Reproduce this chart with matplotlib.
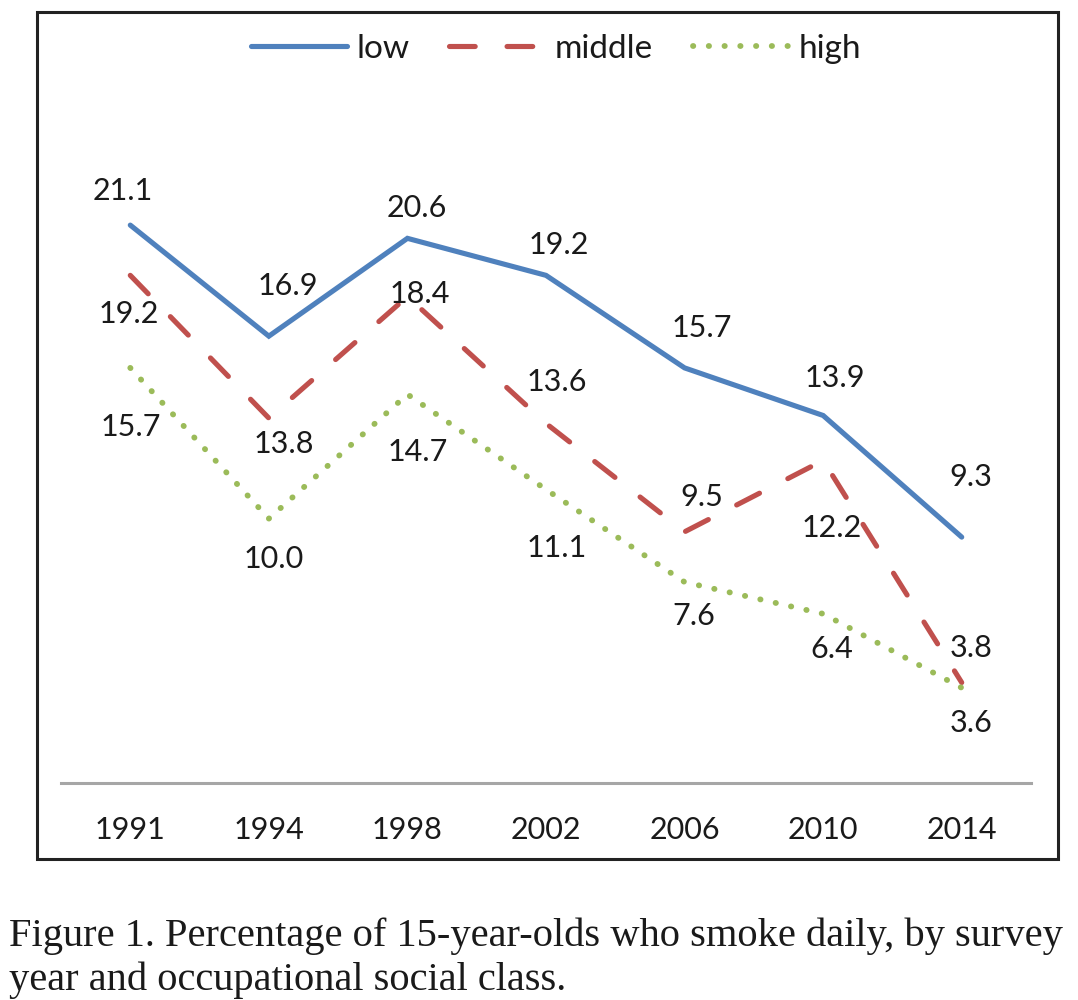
import matplotlib
matplotlib.use("Agg")
import matplotlib.pyplot as plt
from matplotlib.patches import Rectangle

years = ["1991", "1994", "1998", "2002", "2006", "2010", "2014"]
low = [21.1, 16.9, 20.6, 19.2, 15.7, 13.9, 9.3]
middle = [19.2, 13.8, 18.4, 13.6, 9.5, 12.2, 3.8]
high = [15.7, 10.0, 14.7, 11.1, 7.6, 6.4, 3.6]
series_names = ["low", "middle", "high"]

# label offsets in pixels (layout only)
low_off = [(-8, 34), (19, 50), (9, 30), (13, 30), (17, 40), (12, 37), (9, 60)]
mid_off = [(-2, -39), (15, -26), (12, 3), (11, 41), (17, 35), (9, -68), (9, 35)]
high_off = [(1, -59), (5, -40), (10, -58), (11, -58), (9, -34), (9, -35), (9, -35)]

W, H = 1078, 1000
fig = plt.figure(figsize=(W / 100, H / 100), dpi=100)
fig.patch.set_facecolor("white")

ax = fig.add_axes([61 / W, 1 - 783 / H, (1031 - 61) / W, 661 / H])
ax.set_xlim(-0.5, len(years) - 0.5)
ax.set_ylim(0, 25)

x = list(range(len(years)))
BLUE, RED, GREEN = "#4F81BD", "#C0504D", "#9BBB59"
lw = 3.7
l1, = ax.plot(x, low, color=BLUE, lw=lw, solid_capstyle="round", solid_joinstyle="miter", label=series_names[0])
l2, = ax.plot(x, middle, color=RED, lw=lw, dashes=(5.0, 6.2), dash_capstyle="round", label=series_names[1])
l3, = ax.plot(x, high, color=GREEN, lw=4.2, dashes=(0.05, 2.65), dash_capstyle="round", label=series_names[2])

font = "Lato"
fs = 22
for vals, offs in ((low, low_off), (middle, mid_off), (high, high_off)):
    for xi, v, (dx, dy) in zip(x, vals, offs):
        ax.annotate(f"{v:.1f}", (xi, v), xytext=(dx, dy), textcoords="offset pixels",
                    ha="center", va="center", fontsize=fs, family=font, color="#1a1a1a")

for s in ("top", "left", "right"):
    ax.spines[s].set_visible(False)
ax.spines["bottom"].set_color("#A6A6A6")
ax.spines["bottom"].set_linewidth(2.2)
ax.set_yticks([])
ax.set_xticks(x)
ax.set_xticklabels(years, fontsize=fs, family=font, color="#1a1a1a")
ax.tick_params(axis="x", length=0, pad=24)

leg = fig.legend(handles=[l1, l2, l3], loc="center", bbox_to_anchor=(556 / W, 1 - 49 / H),
                 ncol=3, frameon=False, prop={"family": font, "size": 24},
                 handlelength=2.9, handletextpad=0.27, columnspacing=1.2)
for t in leg.get_texts():
    t.set_color("#1a1a1a")

fig.add_artist(Rectangle((37 / W, 1 - 859 / H), (1058 - 37) / W, (859 - 12) / H,
                         transform=fig.transFigure, fill=False, edgecolor="#222222", lw=2.2))

cap_font = "Liberation Serif"
fig.text(9 / W, 1 - 946 / H, "Figure 1. Percentage of 15-year-olds who smoke daily, by survey",
         fontsize=29.2, family=cap_font, va="baseline", ha="left", color="#1a1a1a")
fig.text(9 / W, 1 - 990 / H, "year and occupational social class.",
         fontsize=29.2, family=cap_font, va="baseline", ha="left", color="#1a1a1a")

fig.savefig("out.png", dpi=100)
